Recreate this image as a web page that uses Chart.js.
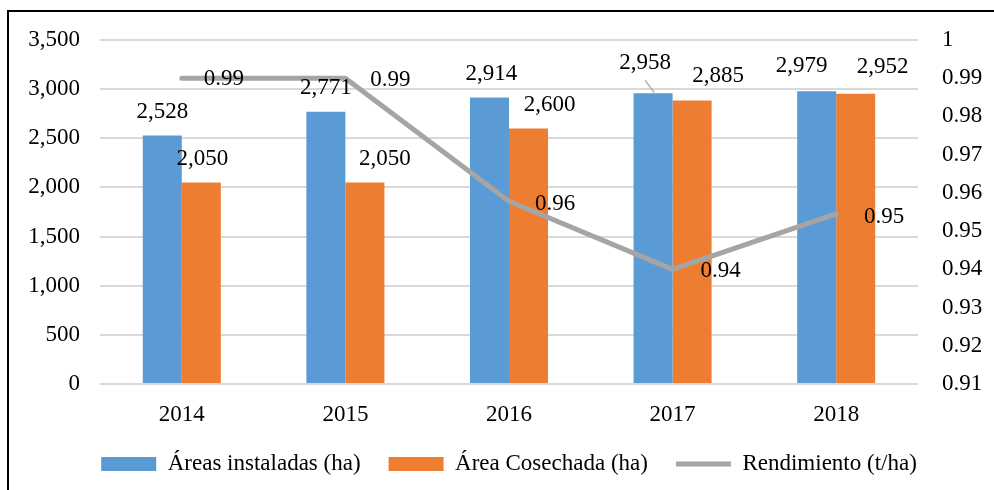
<!DOCTYPE html>
<html>
<head>
<meta charset="utf-8">
<script src="https://cdn.jsdelivr.net/npm/chart.js@4/dist/chart.umd.min.js"></script>
<style>
  html, body { margin: 0; padding: 0; background: #fff; overflow: hidden; }
  #wrap { position: relative; width: 994px; height: 490px; }
  #frame { position: absolute; left: 7px; top: 10px; width: 2000px; height: 1000px;
           border-left: 2px solid #000; border-top: 2px solid #000; pointer-events: none; }
</style>
</head>
<body>
<div id="wrap">
  <canvas id="c" width="994" height="490"></canvas>
  <div id="frame"></div>
</div>
<script>
const categories = ['2014', '2015', '2016', '2017', '2018'];
const areasInstaladas = [2528, 2771, 2914, 2958, 2979];
const areaCosechada = [2050, 2050, 2600, 2885, 2952];
const rendimiento = [0.99, 0.99, 0.9578, 0.94, 0.9545];
const seriesNames = ['Áreas instaladas (ha)', 'Área Cosechada (ha)', 'Rendimiento (t/ha)'];

const FONT = '"Liberation Serif", "Times New Roman", serif';

// label placement offsets (styling only), keyed by dataset index
const labelOffsets = {
  0: [[42, 1], [45, 2], [46, 3], [48, 2], [48, 3]],
  1: [[0, -24], [0, -24], [2, -24], [-8, -30], [-15, -25]],
  2: [[1, -24], [20, -24], [21, -24], [26, -24], [27, -27]]
};

const valueLabels = {
  id: 'valueLabels',
  afterDatasetsDraw(chart) {
    const ctx = chart.ctx;
    ctx.save();
    ctx.font = '23px ' + FONT;
    ctx.fillStyle = '#000';
    ctx.textAlign = 'center';
    ctx.textBaseline = 'middle';
    chart.data.datasets.forEach((ds, di) => {
      const meta = chart.getDatasetMeta(di);
      meta.data.forEach((el, i) => {
        const v = ds.data[i];
        const [dx, dy] = labelOffsets[di][i];
        if (ds.type === 'line') {
          ctx.fillText(v.toFixed(2), el.x + dx, el.y + dy);
        } else {
          if (di === 1 && i === 3) {
            ctx.save(); ctx.strokeStyle = '#a5a5a5'; ctx.lineWidth = 1.3;
            ctx.beginPath(); ctx.moveTo(el.x - 8, el.y - 13); ctx.lineTo(el.x + 1, el.y - 1); ctx.stroke();
            ctx.restore();
          }
          ctx.fillText(v.toLocaleString('en-US'), el.x + dx, el.y + dy);
        }
      });
    });
    ctx.restore();
  }
};

new Chart(document.getElementById('c'), {
  data: {
    labels: categories,
    datasets: [
      { type: 'line', label: seriesNames[2], data: rendimiento, yAxisID: 'y1',
        borderColor: '#A5A5A5', backgroundColor: '#A5A5A5', borderWidth: 5,
        pointRadius: 0, borderCapStyle: 'round', borderJoinStyle: 'round',
        tension: 0, order: 0, pointStyle: 'line' },
      { type: 'bar', label: seriesNames[0], data: areasInstaladas, yAxisID: 'y',
        backgroundColor: '#5B9BD5', borderWidth: 0, order: 1, pointStyle: 'rect',
        barPercentage: 1, categoryPercentage: 0.477 },
      { type: 'bar', label: seriesNames[1], data: areaCosechada, yAxisID: 'y',
        backgroundColor: '#ED7D31', borderWidth: 0, order: 1, pointStyle: 'rect',
        barPercentage: 1, categoryPercentage: 0.477 }
    ]
  },
  options: {
    responsive: false,
    animation: false,
    layout: { padding: { left: 24, right: 0, top: 40, bottom: 4.5 } },
    plugins: {
      tooltip: { enabled: false },
      legend: {
        position: 'bottom',
        labels: {
          usePointStyle: true,
          pointStyleWidth: 55,
          boxHeight: 14,
          padding: 28,
          color: '#000',
          font: { family: FONT, size: 23 },
          sort: (a, b) => {
            const ord = [2, 0, 1];
            return ord[a.datasetIndex] - ord[b.datasetIndex];
          }
        }
      }
    },
    scales: {
      x: {
        grid: { display: false },
        border: { display: false },
        ticks: { color: '#000', font: { family: FONT, size: 23 }, padding: 9 },
        afterFit: (s) => { s.height = 40.5; }
      },
      y: {
        position: 'left', min: 0, max: 3500,
        grid: { color: '#D9D9D9', lineWidth: 2, drawTicks: false },
        border: { display: false },
        ticks: { stepSize: 500, color: '#000', font: { family: FONT, size: 23 }, padding: 20,
                 callback: (v) => Number(v).toLocaleString('en-US') },
        afterFit: (s) => { s.width = 76; }
      },
      y1: {
        position: 'right', min: 0.91, max: 1,
        grid: { drawOnChartArea: false, drawTicks: false },
        border: { display: false },
        ticks: { stepSize: 0.01, color: '#000', font: { family: FONT, size: 23 }, padding: 24,
                 callback: (v) => String(Number(Number(v).toFixed(2))) },
        afterFit: (s) => { s.width = 76; }
      }
    }
  },
  plugins: [valueLabels]
});
</script>
</body>
</html>
